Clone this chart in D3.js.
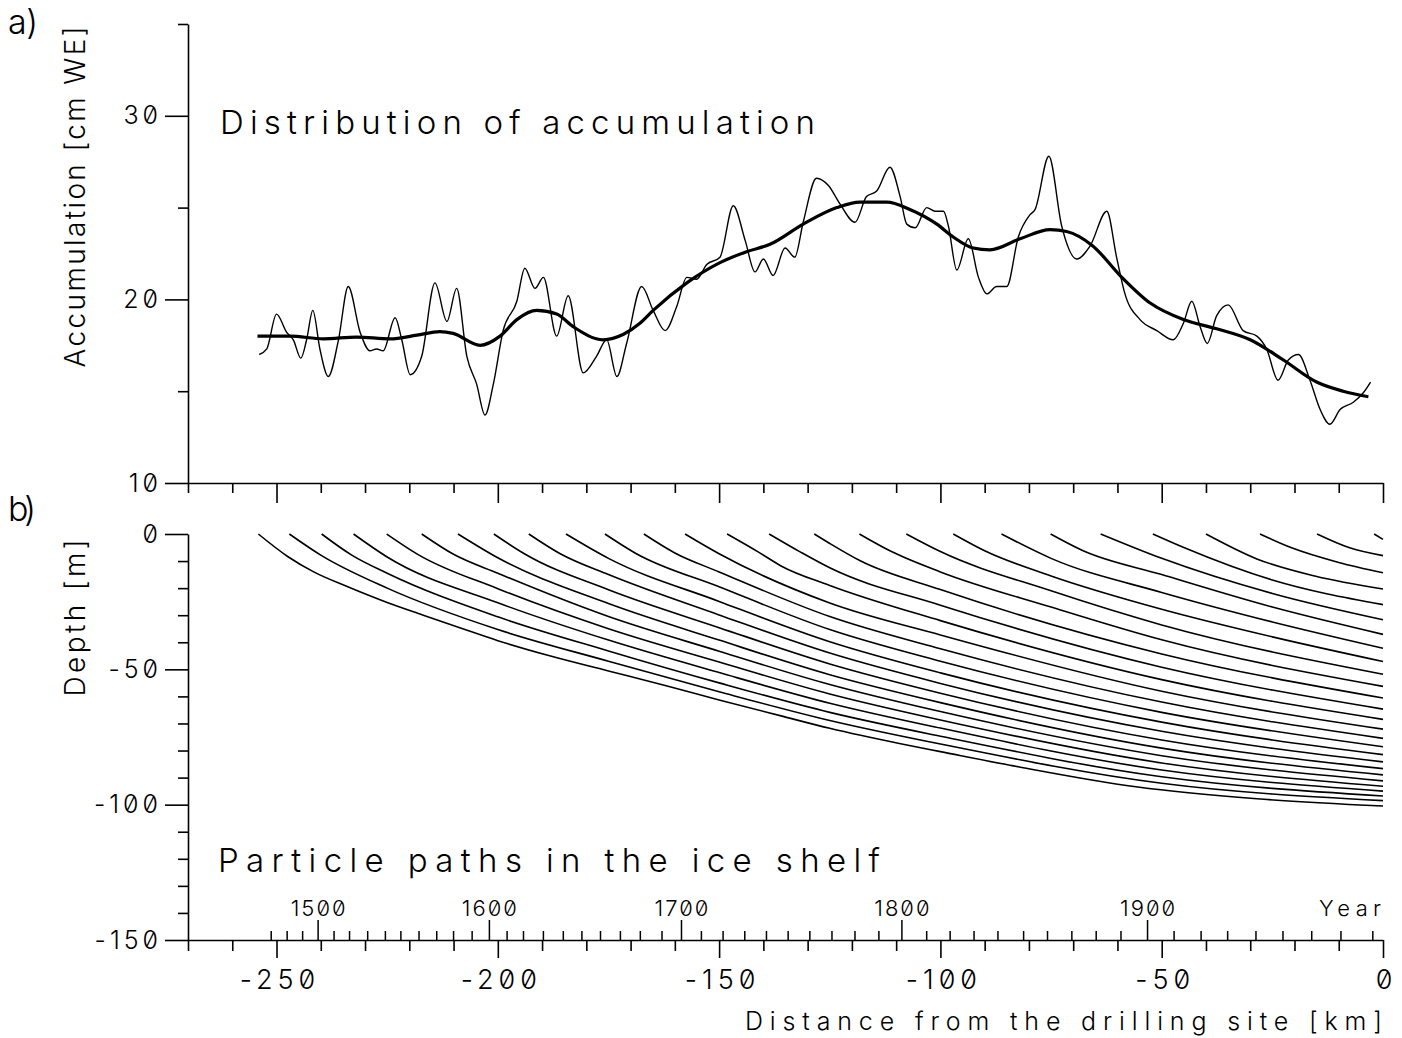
<!DOCTYPE html>
<html>
<head>
<meta charset="utf-8">
<script src="https://d3js.org/d3.v7.min.js"></script>
<style>
  body { margin: 0; background: #fff; }
  text { font-family: Inter, "Open Sans", sans-serif; font-weight: 300; font-feature-settings: "zero" 1; fill: #000; }
  .axis path, .axis line { stroke: #000; stroke-width: 1.6; }
</style>
</head>
<body>
<div id="chart"></div>
<script>
	// Tick values
	var accMajor = [10, 20, 30];
	var accMinor = [15, 25, 35];
	var depthMajor = [0, -50, -100, -150];
	var depthMinor = [-10, -20, -30, -40, -60, -70, -80, -90, -110, -120, -130, -140];
	var kmMajor = [-250, -200, -150, -100, -50, 0];
	var kmMinor = [-270, -260, -240, -230, -220, -210, -190, -180, -170, -160, -140, -130, -120, -110,
	               -90, -80, -70, -60, -40, -30, -20, -10];

	// Year scale: decade -> distance [km]
	var yearTicks = [1470, 1480, 1490, 1500, 1510, 1520, 1530, 1540, 1550, 1560, 1570, 1580, 1590,
	                 1600, 1610, 1620, 1630, 1640, 1650, 1660, 1670, 1680, 1690,
	                 1700, 1710, 1720, 1730, 1740, 1750, 1760, 1770, 1780, 1790,
	                 1800, 1810, 1820, 1830, 1840, 1850, 1860, 1870, 1880, 1890,
	                 1900, 1910, 1920, 1930, 1940, 1950, 1960, 1970, 1980];
	var yearKm = [-251.2, -247.6, -244.1, -240.6, -237.0, -233.5, -229.4, -225.4, -221.9, -217.8, -213.8, -210.0, -205.8,
	              -201.9, -197.9, -194.2, -189.7, -185.2, -181.0, -176.8, -172.3, -167.8, -162.9,
	              -158.5, -154.0, -149.1, -144.2, -139.3, -134.4, -129.5, -124.5, -119.3, -113.9,
	              -108.7, -103.1, -97.8, -92.4, -87.0, -81.2, -75.8, -70.3, -64.8, -59.2,
	              -53.2, -47.2, -41.1, -35.1, -28.7, -22.6, -16.1, -9.5, -2.3];
	var yearLabels = [1500, 1600, 1700, 1800, 1900];

	// a) accumulation, thin curve
	var thinKm = [-253.9, -252.2, -250.0, -247.7, -246.2, -244.5, -243.2, -241.8, -240.2, -238.3, -236.0, -233.8,
	              -231.1, -228.9, -227.4, -225.9, -223.2, -221.7, -219.8, -217.2, -214.2, -211.5, -209.3, -207.0,
	              -204.8, -202.9, -201.0, -198.8, -195.7, -193.9, -191.6, -189.7, -186.7, -184.1, -180.7, -177.7,
	              -175.4, -173.1, -170.9, -167.5, -164.9, -162.2, -159.6, -157.3, -155.1, -152.8, -149.8, -146.8,
	              -144.1, -141.9, -140.0, -137.8, -135.1, -132.9, -131.0, -128.0, -125.3, -122.7, -119.3, -116.7,
	              -114.4, -111.4, -109.1, -107.6, -105.7, -103.1, -101.2, -99.3, -98.2, -96.3, -93.7, -91.4,
	              -89.5, -87.3, -85.0, -82.4, -79.8, -78.6, -75.5, -72.6, -69.2, -66.2, -62.4, -60.2,
	              -58.3, -54.9, -51.1, -47.4, -45.1, -43.2, -41.3, -39.7, -37.6, -35.0, -31.6, -28.5,
	              -26.3, -23.7, -21.4, -19.1, -16.5, -14.2, -12.0, -9.7, -6.7, -4.5, -2.8];
	var thinAcc = [17.0, 17.3, 19.2, 18.2, 17.8, 16.8, 17.8, 19.4, 17.3, 15.8, 17.8, 20.7,
	               18.2, 17.2, 17.3, 17.2, 19.0, 17.8, 15.9, 16.9, 20.9, 18.8, 20.6, 16.9,
	               15.4, 13.7, 15.4, 18.3, 19.9, 21.7, 20.6, 21.2, 18.0, 20.2, 16.0, 16.9,
	               17.8, 15.8, 17.6, 20.7, 19.4, 18.3, 19.6, 21.2, 21.1, 21.9, 22.3, 25.1,
	               23.2, 21.5, 22.2, 21.3, 22.8, 22.3, 24.2, 26.6, 26.2, 25.2, 24.2, 25.6,
	               25.9, 27.2, 25.6, 24.1, 23.9, 25.0, 24.8, 24.8, 24.0, 21.6, 23.3, 21.2,
	               20.3, 20.7, 20.7, 23.4, 24.6, 24.9, 27.8, 24.0, 22.2, 22.9, 24.8, 22.3,
	               20.3, 18.9, 18.3, 17.8, 18.7, 19.9, 18.5, 17.6, 19.1, 19.7, 18.3, 18.0,
	               17.3, 15.6, 16.7, 17.0, 15.6, 14.0, 13.2, 14.0, 14.4, 14.9, 15.5];

	// a) accumulation, smoothed curve
	var smoothKm = [-254.3, -246.9, -239.4, -231.9, -224.4, -218.3, -213.1, -210.1, -204.0, -199.5, -195.7,
	                -191.2, -186.7, -182.9, -176.2, -171.6, -167.9, -164.9, -157.3, -149.8, -143.8, -138.5,
	                -131.0, -123.4, -118.2, -112.1, -106.9, -100.8, -97.1, -92.6, -88.8, -82.0, -75.2,
	                -71.5, -65.5, -59.4, -52.6, -45.1, -37.6, -30.0, -22.5, -15.0, -9.0, -3.3];
	var smoothAcc = [18.0, 18.0, 17.85, 17.95, 17.85, 18.05, 18.25, 18.15, 17.5, 18.0, 18.9,
	                 19.4, 19.2, 18.5, 17.8, 18.1, 18.7, 19.4, 20.9, 22.0, 22.6, 23.0,
	                 24.1, 25.0, 25.3, 25.3, 24.9, 24.1, 23.4, 22.8, 22.7, 23.3, 23.8,
	                 23.7, 22.9, 21.3, 19.8, 18.9, 18.4, 17.8, 16.7, 15.5, 15.0, 14.7];

	// b) particle paths, [distance km, depth m], one list per particle
	var particlePaths = [
	  [[-254.1,0],[-247.4,-8.4],[-241.6,-14],[-233.9,-19.5],[-225,-25.3],[-217,-29.9],[-207.6,-35.2],[-200,-39.4],[-188.3,-45],[-175,-50.6],[-162.4,-55.9],[-150,-61.3],[-136,-67.2],[-125,-71.8],[-109,-77.5],[-100,-80.4],[-82.4,-86],[-55.4,-93.5],[-28.5,-97.8],[0,-100.5]],
	  [[-247.1,0],[-240,-7.8],[-225,-20],[-200,-35.3],[-175,-47],[-150,-58.3],[-125,-68.9],[-100,-77.6],[-50,-92.1],[0,-98.5]],
	  [[-239.8,0],[-233,-7.8],[-225,-14.5],[-200,-30.6],[-175,-43.2],[-150,-55],[-125,-65.9],[-100,-74.7],[-50,-89.7],[0,-96.8]],
	  [[-232.6,0],[-225,-8.5],[-200,-25.4],[-175,-39.2],[-150,-51.2],[-125,-62.5],[-100,-71.7],[-50,-87.2],[0,-95]],
	  [[-225.1,0],[-218,-7.6],[-200,-20.2],[-175,-35],[-150,-47.3],[-125,-59.1],[-100,-68.7],[-50,-84.6],[0,-93.2]],
	  [[-217.2,0],[-210,-7.5],[-200,-14.5],[-175,-30.5],[-150,-43.3],[-125,-55.6],[-100,-65.6],[-50,-81.9],[0,-91.2]],
	  [[-209,0],[-200,-8.8],[-175,-25.7],[-150,-39.2],[-125,-52],[-100,-62.3],[-50,-79.1],[0,-89]],
	  [[-200.9,0],[-194,-7.3],[-175,-20.6],[-150,-34.6],[-125,-48],[-100,-58.8],[-50,-76.1],[0,-86.7]],
	  [[-193,0],[-186,-7.2],[-175,-15],[-150,-29.9],[-125,-44],[-100,-55.2],[-50,-72.9],[0,-84.2]],
	  [[-184.6,0],[-175,-9],[-150,-24.9],[-125,-39.8],[-100,-51.3],[-50,-69.5],[0,-81.5]],
	  [[-175.8,0],[-169,-7],[-150,-19.5],[-125,-35.3],[-100,-47],[-50,-65.9],[0,-78.6]],
	  [[-167,0],[-160,-7],[-150,-14],[-125,-30.5],[-100,-42.4],[-50,-62.1],[0,-75.5]],
	  [[-157.7,0],[-150,-7.3],[-125,-25.5],[-100,-37.3],[-50,-58.1],[0,-72.1]],
	  [[-148.2,0],[-141,-6.8],[-136,-11.8],[-125,-19],[-100,-32],[-50,-53.8],[0,-68.5]],
	  [[-138.7,0],[-131.7,-6.6],[-125,-12.5],[-100,-26.3],[-50,-49.2],[0,-64.7]],
	  [[-128.5,0],[-125,-3.5],[-118,-10],[-100,-20.5],[-50,-44.3],[0,-60.6]],
	  [[-118.3,0],[-111.3,-6.3],[-100,-14],[-75,-27],[-50,-39.1],[0,-56.3]],
	  [[-107.7,0],[-100,-6.5],[-75,-21],[-50,-33.6],[0,-51.8]],
	  [[-97.1,0],[-90,-6.2],[-75,-15.5],[-50,-27.8],[-25,-38],[0,-47.1]],
	  [[-86.2,0],[-75,-9],[-50,-21.6],[-25,-32.5],[0,-42.2]],
	  [[-75.1,0],[-68,-6],[-50,-15],[-25,-27],[0,-37.1]],
	  [[-63.8,0],[-50,-9],[-25,-22],[0,-31.7]],
	  [[-52,0],[-45,-5],[-25,-17],[0,-26.1]],
	  [[-40,0],[-28.5,-9.2],[-15.2,-15.6],[0,-20.3]],
	  [[-27.8,0],[-20.8,-5],[-10,-10.5],[0,-14.3]],
	  [[-14.9,0],[-7.7,-5],[0,-8]],
	  [[-2,0],[0,-2]]
	];

	//Setting up the canvas
	var svgWidth = 1402;
	var svgHeight = 1038;

	var svg = d3.select("#chart").append("svg")
	    .attr("width", svgWidth)
	    .attr("height", svgHeight);

	svg.append("rect").attr("width", svgWidth).attr("height", svgHeight).attr("fill", "#fff");

	//Scales
	var x = d3.scaleLinear().domain([-270, 0]).range([188, 1383]);
	var yAcc = d3.scaleLinear().domain([10, 35]).range([483, 24]);
	var yDep = d3.scaleLinear().domain([-150, 0]).range([940, 534]);

	function isIn(list) {
	  return function(d) { return list.indexOf(d) >= 0; };
	}

	// ---- panel a axes
	var accAxis = d3.axisLeft(yAcc)
	    .tickValues(accMajor.concat(accMinor))
	    .tickSize(23).tickSizeOuter(0).tickPadding(3)
	    .tickFormat(function(d) { return isIn(accMajor)(d) ? String(d) : ""; });

	var gAcc = svg.append("g")
	    .attr("class", "axis")
	    .attr("transform", "translate(188,0)")
	    .call(accAxis);
	gAcc.selectAll(".tick line").attr("x2", function(d) { return isIn(accMajor)(d) ? -23 : -10; });

	var topKmAxis = d3.axisBottom(x)
	    .tickValues(kmMajor.concat(kmMinor))
	    .tickSize(20).tickSizeOuter(0)
	    .tickFormat("");

	var gTop = svg.append("g")
	    .attr("class", "axis")
	    .attr("transform", "translate(0,483)")
	    .call(topKmAxis);
	gTop.selectAll(".tick line").attr("y2", function(d) { return isIn(kmMajor)(d) ? 20 : 10; });

	// ---- panel b axes
	var depAxis = d3.axisLeft(yDep)
	    .tickValues(depthMajor.concat(depthMinor))
	    .tickSize(23).tickSizeOuter(0).tickPadding(3)
	    .tickFormat(function(d) { return isIn(depthMajor)(d) ? String(d) : ""; });

	var gDep = svg.append("g")
	    .attr("class", "axis")
	    .attr("transform", "translate(188,0)")
	    .call(depAxis);
	gDep.selectAll(".tick line").attr("x2", function(d) { return isIn(depthMajor)(d) ? -23 : -10; });

	var kmAxis = d3.axisBottom(x)
	    .tickValues(kmMajor.concat(kmMinor))
	    .tickSize(18).tickSizeOuter(0).tickPadding(12)
	    .tickFormat(function(d) { return isIn(kmMajor)(d) ? String(d) : ""; });

	var gKm = svg.append("g")
	    .attr("class", "axis")
	    .attr("transform", "translate(0,940)")
	    .call(kmAxis);
	gKm.selectAll(".tick line").attr("y2", function(d) { return isIn(kmMajor)(d) ? 18 : 11; });

	// tick label fonts
	svg.selectAll(".axis text")
	    .style("font-family", "Inter, 'Open Sans', sans-serif")
	    .style("font-weight", 300)
	    .attr("fill", "#000");
	gAcc.selectAll("text").style("font-size", "25px").style("letter-spacing", "4px");
	gDep.selectAll("text").style("font-size", "25px").style("letter-spacing", "4px");
	gKm.selectAll("text").style("font-size", "27px").style("letter-spacing", "5px").attr("dx", 3);

	// year ticks standing on the bottom line
	var years = d3.zip(yearTicks, yearKm);
	svg.append("g").selectAll("line")
	    .data(years)
	  .enter().append("line")
	    .attr("x1", function(d) { return x(d[1]); })
	    .attr("x2", function(d) { return x(d[1]); })
	    .attr("y1", 940)
	    .attr("y2", function(d) { return isIn(yearLabels)(d[0]) ? 920 : 931; })
	    .attr("stroke", "#000")
	    .attr("stroke-width", 1.5);

	svg.append("g").selectAll("text")
	    .data(years.filter(function(d) { return isIn(yearLabels)(d[0]); }))
	  .enter().append("text")
	    .attr("x", function(d) { return x(d[1]); })
	    .attr("y", 916)
	    .attr("dx", 1)
	    .attr("text-anchor", "middle")
	    .style("font-size", "22px")
	    .style("letter-spacing", "2px")
	    .text(function(d) { return d[0]; });

	svg.append("text")
	    .attr("x", 1381).attr("y", 916)
	    .attr("text-anchor", "end")
	    .style("font-size", "22px")
	    .attr("textLength", 62)
	    .text("Year");

	// ---- accumulation curves
	var accLine = d3.line()
	    .x(function(d) { return x(d[0]); })
	    .y(function(d) { return yAcc(d[1]); })
	    .curve(d3.curveMonotoneX);

	svg.append("path")
	    .datum(d3.zip(thinKm, thinAcc))
	    .attr("d", accLine)
	    .attr("fill", "none")
	    .attr("stroke", "#000")
	    .attr("stroke-width", 1.4);

	svg.append("path")
	    .datum(d3.zip(smoothKm, smoothAcc))
	    .attr("d", accLine)
	    .attr("fill", "none")
	    .attr("stroke", "#000")
	    .attr("stroke-width", 3.2);

	// ---- particle paths
	var pathLine = d3.line()
	    .x(function(d) { return x(d[0]); })
	    .y(function(d) { return yDep(d[1]); })
	    .curve(d3.curveMonotoneX);

	svg.append("g").selectAll("path")
	    .data(particlePaths)
	  .enter().append("path")
	    .attr("d", pathLine)
	    .attr("fill", "none")
	    .attr("stroke", "#000")
	    .attr("stroke-width", 1.6);

	// ---- texts
	function label(txt, xx, yy, size, len, anchor, rot) {
	  var t = svg.append("text")
	      .attr("text-anchor", anchor || "start")
	      .style("font-size", size + "px")
	      .text(txt);
	  if (len) t.attr("textLength", len).attr("lengthAdjust", "spacing");
	  if (rot) t.attr("transform", "translate(" + xx + "," + yy + ") rotate(-90)");
	  else t.attr("x", xx).attr("y", yy);
	  return t;
	}

	label("a)", 8, 34, 34, 30);
	label("b)", 8, 521, 34, 28);
	label("Distribution of accumulation", 220, 134, 33, 595);
	label("Particle paths in the ice shelf", 218, 872, 33, 662);
	label("Accumulation [cm WE]", 85, 197, 28, 341, "middle", true);
	label("Depth [m]", 85, 618, 28, 157, "middle", true);
	label("Distance from the drilling site [km]", 1382, 1030, 25, 637, "end");
</script>
</body>
</html>
